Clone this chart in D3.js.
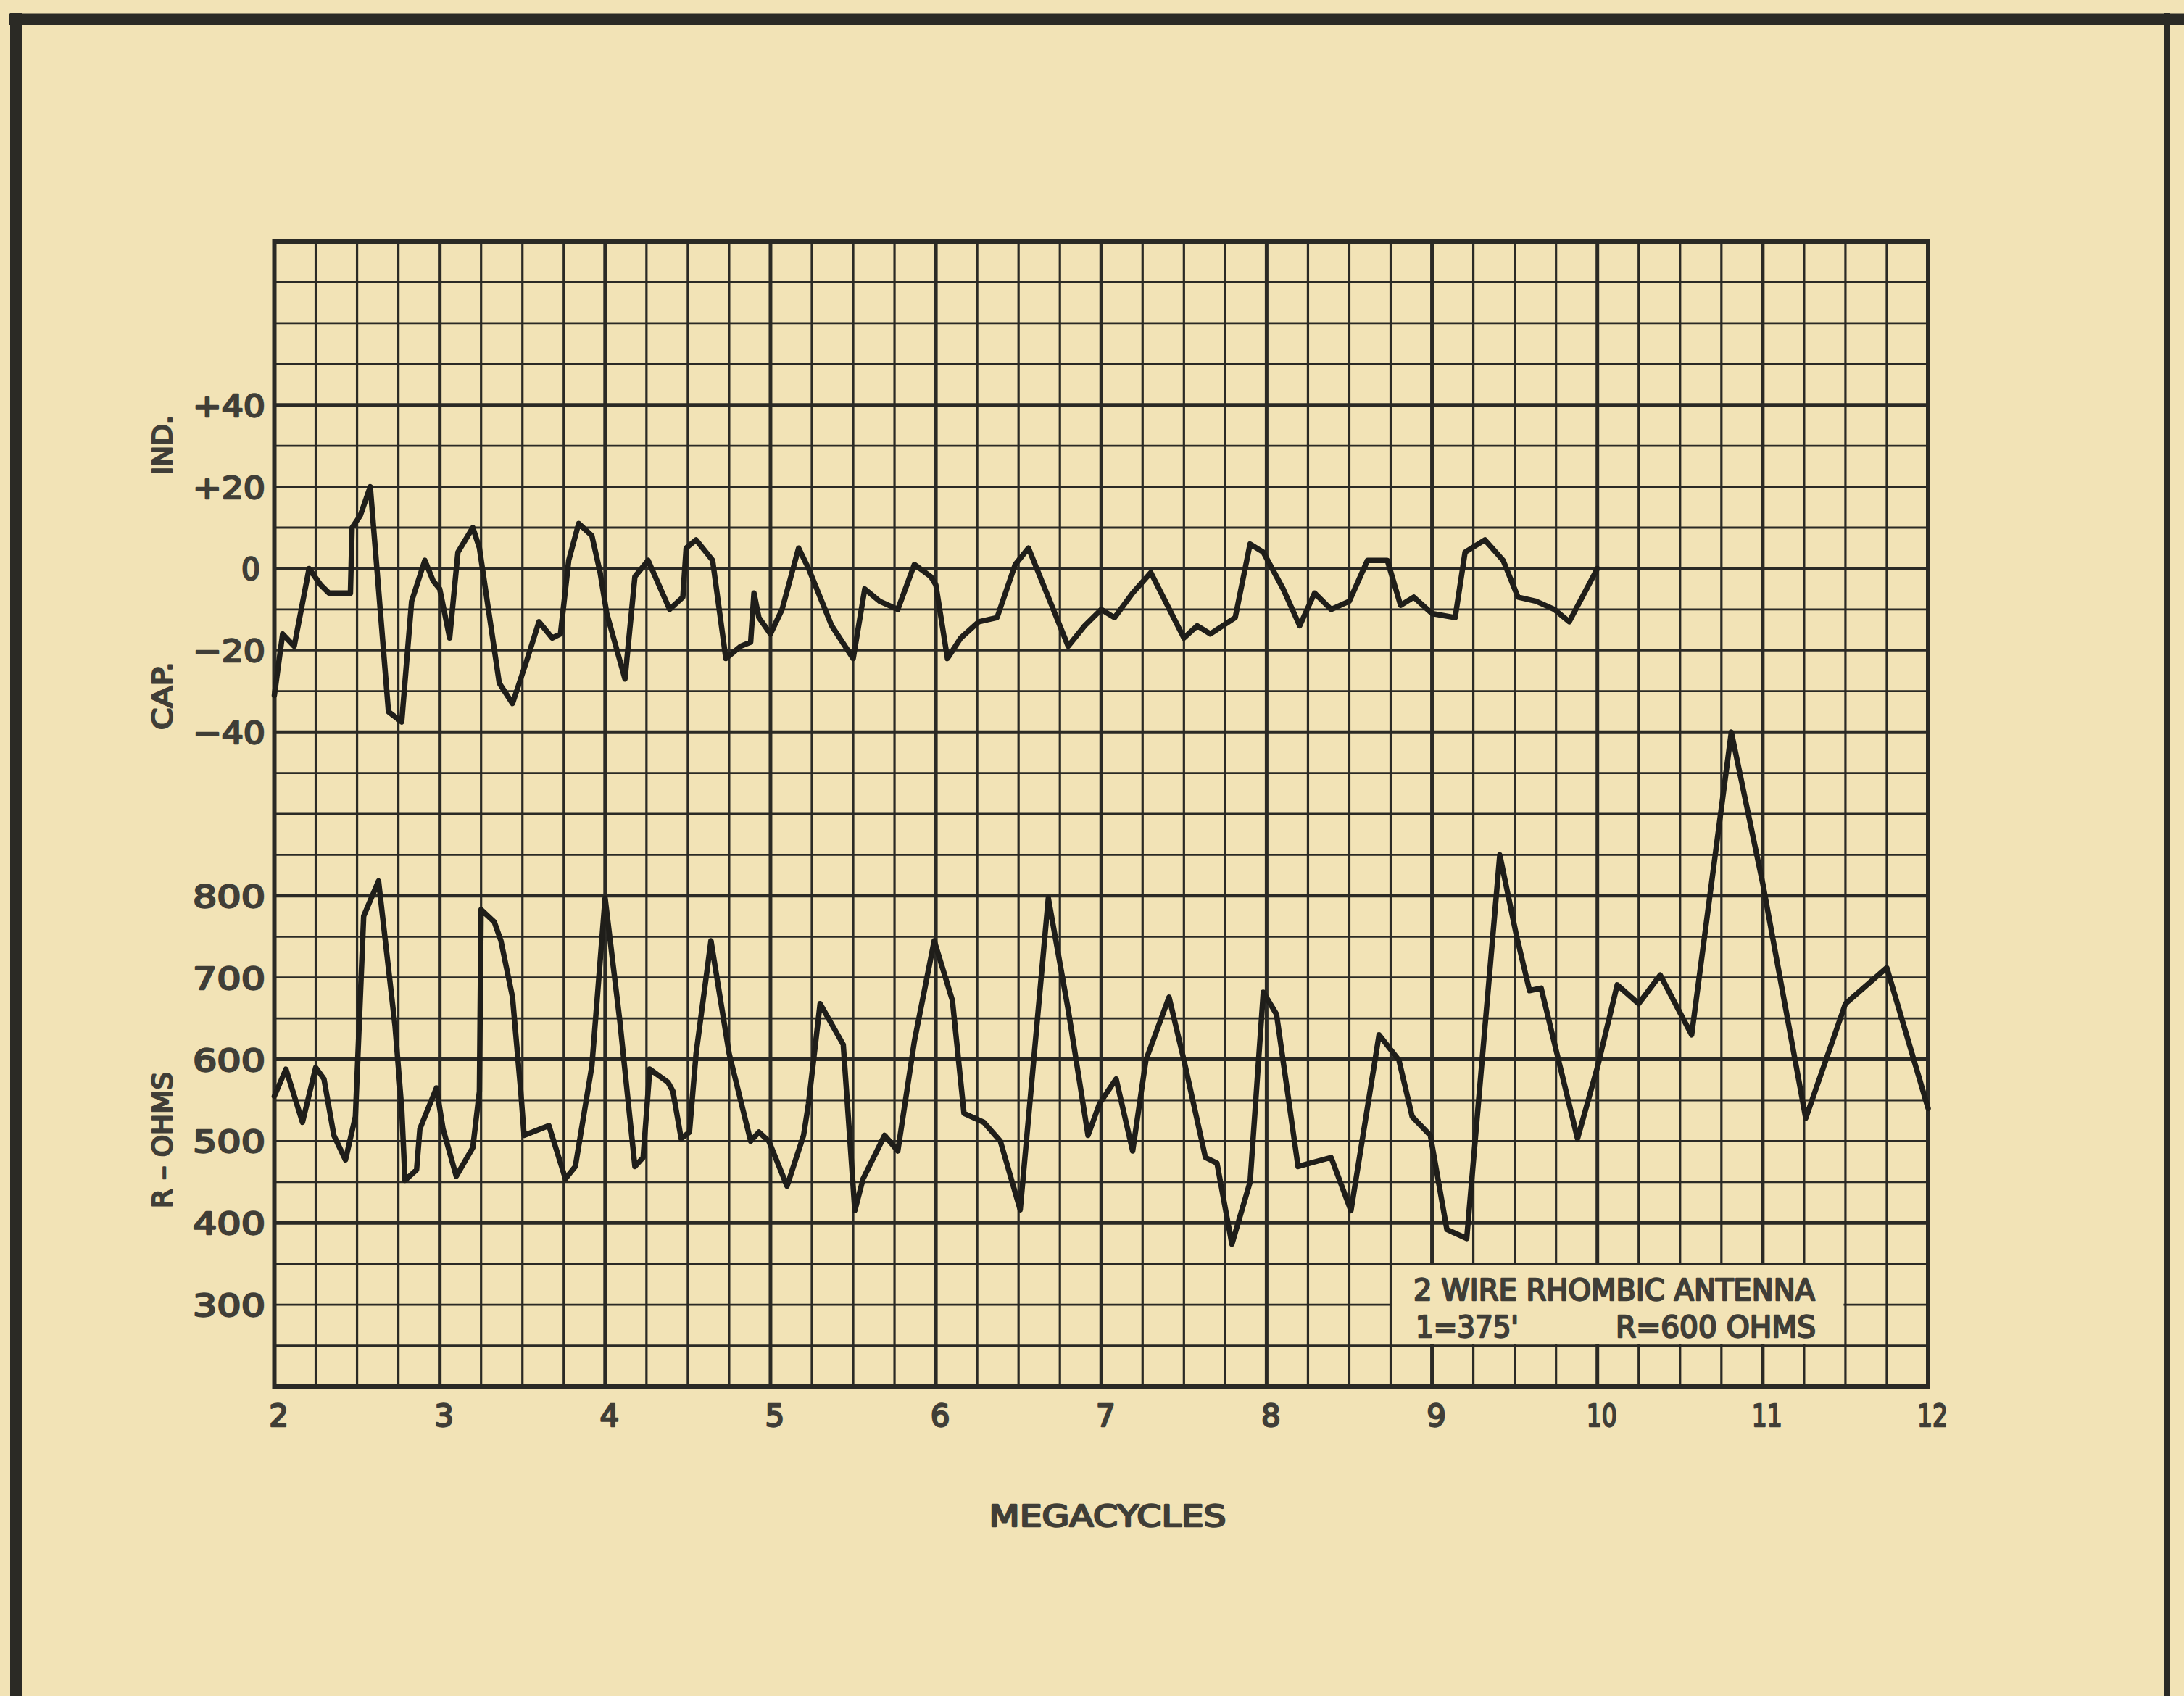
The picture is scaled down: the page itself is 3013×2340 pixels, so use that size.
<!DOCTYPE html>
<html>
<head>
<meta charset="utf-8">
<script src="https://cdn.jsdelivr.net/npm/d3@7"></script>
<style>
html,body{margin:0;padding:0;background:#f2e3b6;}
svg{display:block;}
</style>
</head>
<body>
<script>
// ---------------- DATA ----------------
// Reactance (ohms, + inductive / - capacitive) vs frequency (MC)
const freqX = [2.0,2.05,2.12,2.21,2.28,2.33,2.46,2.47,2.52,2.58,2.69,2.77,2.83,2.91,2.96,3.0,3.06,3.11,3.2,3.24,
  3.36,3.44,3.53,3.6,3.68,3.73,3.78,3.84,3.92,3.97,4.01,4.12,4.18,4.26,4.39,4.47,4.49,4.55,4.65,4.73,
  4.82,4.88,4.9,4.93,5.0,5.07,5.17,5.23,5.37,5.5,5.57,5.66,5.77,5.87,5.97,6.0,6.07,6.15,6.26,6.37,
  6.48,6.56,6.68,6.8,6.9,7.0,7.08,7.19,7.3,7.4,7.5,7.58,7.66,7.81,7.9,7.98,8.1,8.2,8.29,8.39,
  8.5,8.61,8.73,8.81,8.89,9.0,9.14,9.2,9.32,9.43,9.52,9.63,9.74,9.83,10.0];
const reactance = [-31,-16,-19,0,-4,-6,-6,10,13,20,-35,-37.5,-8,2,-3,-5,-17,4,10,5,
  -28,-33,-22,-13,-17,-16,2,11,8,-1,-11,-27,-2,2,-10,-7,5,7,2,-22,
  -19,-18,-6,-12,-16,-10,5,0,-14,-22,-5,-8,-10,1,-2,-4,-22,-17,-13,-12,
  1,5,-7,-19,-14,-10,-12,-6,-1,-9,-17,-14,-16,-12,6,4,-5,-14,-6,-10,
  -8,2,2,-9,-7,-11,-12,4,7,2,-7,-8,-10,-13,0];

// Resistance (ohms) vs frequency (MC)
const freqR = [2.0,2.07,2.17,2.25,2.3,2.36,2.43,2.49,2.54,2.63,2.73,2.77,2.79,2.86,2.88,2.98,3.02,3.1,3.2,3.24,
  3.25,3.33,3.37,3.44,3.49,3.51,3.66,3.76,3.82,3.92,4.0,4.09,4.18,4.23,4.27,4.38,4.41,4.46,4.51,4.55,
  4.64,4.75,4.88,4.93,4.99,5.1,5.2,5.23,5.3,5.44,5.51,5.56,5.69,5.77,5.87,5.99,6.1,6.17,6.29,6.39,
  6.51,6.68,6.8,6.92,6.99,7.09,7.19,7.27,7.41,7.5,7.63,7.7,7.79,7.9,7.98,8.06,8.19,8.39,8.51,8.68,
  8.8,8.88,8.99,9.09,9.21,9.41,9.51,9.59,9.66,9.88,10.0,10.12,10.25,10.38,10.57,10.81,11.0,11.26,11.5,11.75,12.0];
const resistance = [555,588,523,590,576,507,477,530,775,818,640,540,452,465,515,565,515,457,492,561,
  783,768,745,676,561,507,519,454,469,592,797,645,469,480,588,572,561,503,511,607,
  745,607,500,511,500,445,507,546,668,618,415,454,507,488,622,745,672,534,523,500,
  416,797,661,507,546,576,488,599,676,599,480,473,374,450,682,655,469,480,415,630,
  599,530,507,392,381,850,752,684,687,503,590,691,668,703,630,1000,815,528,668,712,540];

const xTicks = [2,3,4,5,6,7,8,9,10,11,12];
const xTickLabels = ["2","3","4","5","6","7","8","9","10","11","12"];
const reactTicks = [40,20,0,-20,-40];
const reactTickLabels = ["+40","+20","0","\u221220","\u221240"];
const resTicks = [800,700,600,500,400,300];
const resTickLabels = ["800","700","600","500","400","300"];
const xTitle = "MEGACYCLES";
const indLabel = "IND.";
const capLabel = "CAP.";
const resLabel = "R \u2013 OHMS";
const legendLine1 = "2 WIRE RHOMBIC ANTENNA";
const legendLine2a = "1=375'";
const legendLine2b = "R=600 OHMS";

// ---------------- DRAWING ----------------
(function () {
const W = 3013, H = 2340;
const PAPER = "#f2e3b6", INK = "#2b2a25", TEXT = "#403e37";
const FONT = "'DejaVu Sans', 'Liberation Sans', sans-serif";
const pLeft = 378.5, pRight = 2660, pTop = 333, pBottom = 1913;
const rowH = (pBottom - pTop) / 28;
const split = pTop + 16 * rowH;

const x = d3.scaleLinear().domain([2, 12]).range([pLeft, pRight]);
const yTop = d3.scaleLinear().domain([-80, 80]).range([split, pTop]);
const yBot = d3.scaleLinear().domain([200, 800]).range([pBottom, split]);

const svg = d3.select("body").append("svg").attr("width", W).attr("height", H);
svg.append("rect").attr("width", W).attr("height", H).attr("fill", PAPER);

// page frame
svg.append("line").attr("x1", 13).attr("x2", W).attr("y1", 26.5).attr("y2", 26.5)
  .attr("stroke", INK).attr("stroke-width", 16);
svg.append("line").attr("x1", 22.5).attr("x2", 22.5).attr("y1", 18).attr("y2", H)
  .attr("stroke", INK).attr("stroke-width", 17);
svg.append("line").attr("x1", 2989).attr("x2", 2989).attr("y1", 18).attr("y2", H)
  .attr("stroke", INK).attr("stroke-width", 8);

// grid
const vGrid = d3.range(0, 41).map(i => 2 + i / 4);
svg.append("g").selectAll("line").data(vGrid).join("line")
  .attr("x1", d => x(d)).attr("x2", d => x(d)).attr("y1", pTop).attr("y2", pBottom)
  .attr("stroke", INK).attr("stroke-width", d => Number.isInteger(d) ? 5 : 3.2);

const hTop = d3.range(-70, 81, 10);
svg.append("g").selectAll("line").data(hTop).join("line")
  .attr("x1", pLeft).attr("x2", pRight).attr("y1", d => yTop(d)).attr("y2", d => yTop(d))
  .attr("stroke", INK).attr("stroke-width", d => d % 40 === 0 ? 5 : 2.8);

const hBot = d3.range(200, 801, 50);
svg.append("g").selectAll("line").data(hBot).join("line")
  .attr("x1", pLeft).attr("x2", pRight).attr("y1", d => yBot(d)).attr("y2", d => yBot(d))
  .attr("stroke", INK).attr("stroke-width", d => (800 - d) % 200 === 0 ? 5 : 2.8);

// legend box (blanks the grid inside)
const lx0 = x(8.75), lx1 = x(11.5), ly0 = yBot(350), ly1 = yBot(250);
svg.append("rect").attr("x", lx0 + 2.5).attr("y", ly0 + 2).attr("width", lx1 - lx0 - 5).attr("height", ly1 - ly0 - 4)
  .attr("fill", PAPER);

// plot frame
svg.append("rect").attr("x", pLeft).attr("y", pTop).attr("width", pRight - pLeft).attr("height", pBottom - pTop)
  .attr("fill", "none").attr("stroke", INK).attr("stroke-width", 6);

// data lines
const reactData = freqX.map((f, i) => [f, reactance[i]]);
const resData = freqR.map((f, i) => [f, resistance[i]]);
svg.append("path").datum(reactData)
  .attr("d", d3.line().x(d => x(d[0])).y(d => yTop(d[1])))
  .attr("fill", "none").attr("stroke", "#1f1e1a").attr("stroke-width", 7.5)
  .attr("stroke-linejoin", "round").attr("stroke-linecap", "round");
svg.append("path").datum(resData)
  .attr("d", d3.line().x(d => x(d[0])).y(d => yBot(d[1])))
  .attr("fill", "none").attr("stroke", "#1f1e1a").attr("stroke-width", 7.5)
  .attr("stroke-linejoin", "round").attr("stroke-linecap", "round");

// text helper
function label(txt, px, py, opts = {}) {
  const t = svg.append("text").attr("x", px).attr("y", py).text(txt)
    .attr("font-family", FONT).attr("font-weight", "normal")
    .attr("font-size", opts.size || 38).attr("fill", TEXT)
    .attr("stroke", TEXT).attr("stroke-width", opts.sw || 2.4).attr("stroke-linejoin", "round")
    .attr("text-anchor", opts.anchor || "middle");
  if (opts.len) t.attr("textLength", opts.len).attr("lengthAdjust", opts.adjust || "spacingAndGlyphs");
  if (opts.rotate) t.attr("transform", `rotate(-90 ${px} ${py})`);
  return t;
}

// y tick labels
reactTicks.forEach((v, i) => {
  const s = reactTickLabels[i];
  if (s.length === 1) label(s, 359, yTop(v) + 16, { anchor: "end", size: 42, len: 26 });
  else label(s, 366, yTop(v) + 16, { anchor: "end", size: 42, len: 100 });
});
resTicks.forEach((v, i) => {
  label(resTickLabels[i], 366, yBot(v) + 16, { anchor: "end", size: 42, len: 100 });
});

// x tick labels
xTicks.forEach((v, i) => {
  const s = xTickLabels[i];
  label(s, x(v) + 6, 1968, { size: 42, len: s.length === 2 ? 42 : null });
});

// axis titles
label(indLabel, 237, 614, { size: 38, rotate: true, len: 82 });
label(capLabel, 237, 960, { size: 38, rotate: true, len: 94 });
label(resLabel, 237, 1573, { size: 38, rotate: true, len: 188 });
label(xTitle, 1528, 2106, { size: 40, len: 327 });

// legend text
label(legendLine1, 1950, 1794, { anchor: "start", size: 40, len: 554 });
label(legendLine2a, 1953, 1845, { anchor: "start", size: 40, len: 142 });
label(legendLine2b, 2229, 1845, { anchor: "start", size: 40, len: 276 });
})();
</script>
</body>
</html>
